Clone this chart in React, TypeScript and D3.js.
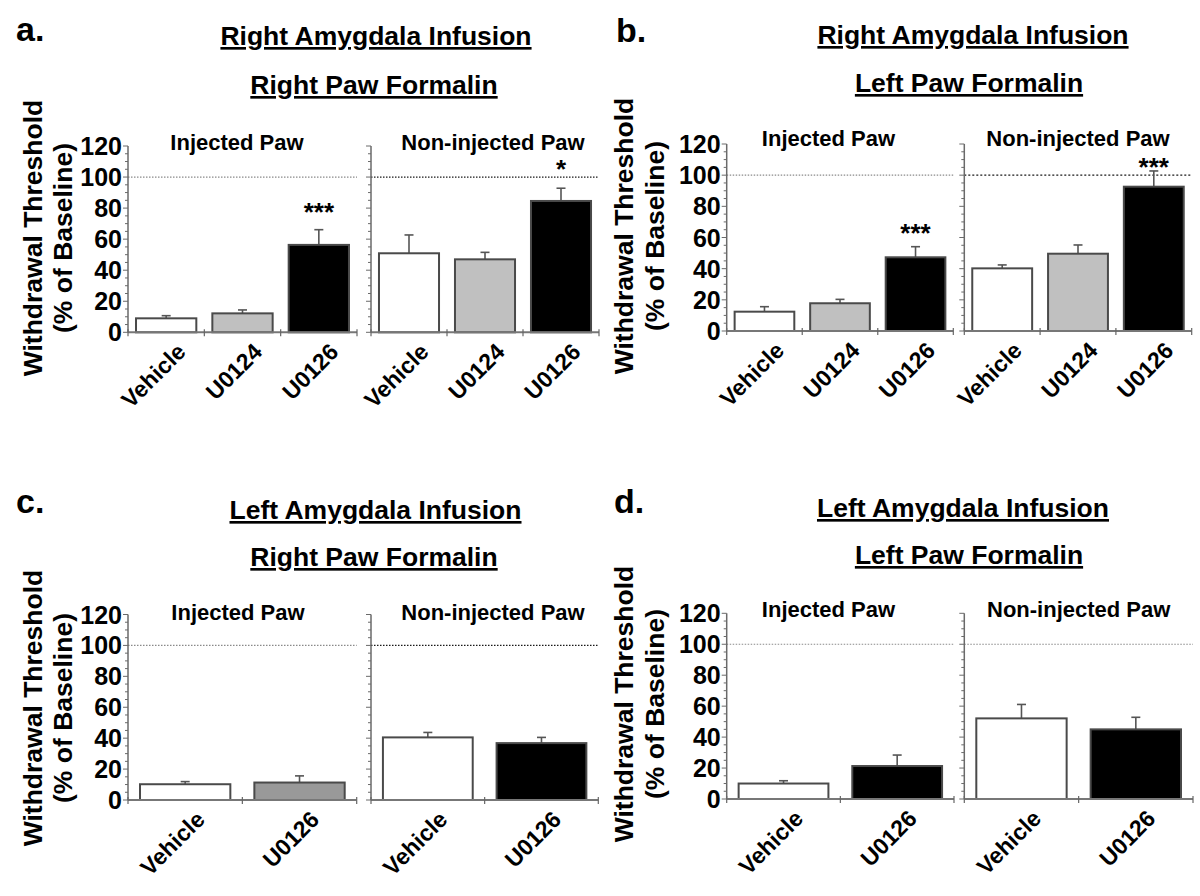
import React from "react";
import * as d3 from "d3";

// ---------- data ----------
const treatments3 = ["Vehicle", "U0124", "U0126"];
const treatments2 = ["Vehicle", "U0126"];
const yTickValues = [0, 20, 40, 60, 80, 100, 120];
const baselineLevel = 100;

// panel a: right amygdala infusion, right paw formalin
const aInjMean = [9.0, 12.2, 56.3];
const aInjSem = [1.7, 2.2, 9.8];
const aNonMean = [50.9, 47.0, 84.6];
const aNonSem = [11.8, 4.5, 8.2];
const aInjStars = ["", "", "***"];
const aNonStars = ["", "", "*"];
const aInjStarLevel = 80;
const aNonStarLevel = 107.5;

// panel b: right amygdala infusion, left paw formalin
const bInjMean = [12.4, 17.8, 47.3];
const bInjSem = [3.2, 2.5, 6.8];
const bNonMean = [40.2, 49.6, 92.6];
const bNonSem = [2.2, 5.6, 10.1];
const bInjStars = ["", "", "***"];
const bNonStars = ["", "", "***"];
const bInjStarLevel = 65;
const bNonStarLevel = 107.5;

// panel c: left amygdala infusion, right paw formalin
const cInjMean = [10.2, 11.3];
const cInjSem = [1.7, 4.3];
const cNonMean = [40.5, 36.8];
const cNonSem = [3.2, 3.7];

// panel d: left amygdala infusion, left paw formalin
const dInjMean = [10.0, 21.3];
const dInjSem = [1.8, 7.1];
const dNonMean = [52.1, 45.0];
const dNonSem = [9.0, 7.8];

const fills3 = ["#ffffff", "#c0c0c0", "#000000"];
const fillsCInj = ["#ffffff", "#999999"];
const fills2 = ["#ffffff", "#000000"];

const FONT = "'Liberation Sans', Arial, Helvetica, sans-serif";

// ---------- layout ----------
type Sub = {
  x0: number; x1: number; yBottom: number; yTop: number;
  cats: string[]; means: number[]; sems: number[]; fills: string[];
  subtitle: string; subX: number; subY: number;
  showTickLabels: boolean; refColor: string; refDash: string;
  stars?: string[]; starLevel?: number;
};

function Subplot(p: Sub) {
  const y = d3.scaleLinear().domain([0, 120]).range([p.yBottom, p.yTop]);
  const x = d3.scaleBand<string>().domain(p.cats).range([p.x0, p.x1])
    .paddingInner(0.21).paddingOuter(0.105);
  const step = x.step();
  const minor = d3.range(0, 121, 5);
  const y0 = y(0);
  return (
    <g>
      {/* reference line at 100% */}
      <line x1={p.x0} x2={p.x1} y1={y(baselineLevel)} y2={y(baselineLevel)}
        stroke={p.refColor} strokeWidth={1.2} strokeDasharray={p.refDash} />
      {/* bars */}
      {p.cats.map((c, i) => {
        const bx = x(c)!;
        const cx = bx + x.bandwidth() / 2;
        const top = y(p.means[i]);
        const et = y(p.means[i] + p.sems[i]);
        return (
          <g key={c}>
            <line x1={cx} x2={cx} y1={top} y2={et} stroke="#555" strokeWidth={1.6} />
            <line x1={cx - 4.5} x2={cx + 4.5} y1={et} y2={et} stroke="#555" strokeWidth={1.6} />
            <rect x={bx} y={top} width={x.bandwidth()} height={y0 - top}
              fill={p.fills[i]} stroke="#4a4a4a" strokeWidth={2} />
          </g>
        );
      })}
      {/* y axis */}
      <line x1={p.x0} x2={p.x0} y1={y(120)} y2={y0} stroke="#6a6a6a" strokeWidth={1.5} />
      {minor.map((v) => (
        <line key={v} x1={p.x0 - (v % 20 === 0 ? 5 : 3)} x2={p.x0} y1={y(v)} y2={y(v)}
          stroke="#6a6a6a" strokeWidth={1} />
      ))}
      {p.showTickLabels && yTickValues.map((v) => (
        <text key={v} x={p.x0 - 6} y={y(v)} dy="0.36em" textAnchor="end"
          fontFamily={FONT} fontWeight="bold" fontSize={25} fill="#000">{v}</text>
      ))}
      {/* x axis */}
      <line x1={p.x0} x2={p.x1} y1={y0} y2={y0} stroke="#777" strokeWidth={2} />
      {d3.range(p.cats.length + 1).map((i) => (
        <line key={i} x1={p.x0 + i * step} x2={p.x0 + i * step} y1={y0 - 3} y2={y0 + 4}
          stroke="#666" strokeWidth={1.2} />
      ))}
      {/* x labels */}
      {p.cats.map((c) => {
        const cx = x(c)! + x.bandwidth() / 2;
        return (
          <text key={c} transform={`translate(${cx + 21},${y0 + 21}) rotate(-45)`}
            textAnchor="end" fontFamily={FONT} fontWeight="bold" fontSize={23} fill="#000">{c}</text>
        );
      })}
      {/* significance */}
      {p.stars && p.starLevel !== undefined && p.cats.map((c, i) => p.stars![i] ? (
        <text key={"s" + c} x={x(c)! + x.bandwidth() / 2} y={y(p.starLevel!) + 12.5}
          textAnchor="middle" fontFamily={FONT} fontWeight="bold" fontSize={26} fill="#000">{p.stars![i]}</text>
      ) : null)}
      {/* subtitle */}
      <text x={p.subX} y={p.subY} textAnchor="middle" fontFamily={FONT} fontWeight="bold"
        fontSize={22} fill="#000">{p.subtitle}</text>
    </g>
  );
}

type PanelProps = {
  letter: string; letterX: number; letterY: number;
  title1: string; title1X: number; title1Y: number;
  title2: string; title2X: number; title2Y: number;
  yTitleX: number; yTitleY: number;
  left: Sub; right: Sub;
};

function Panel(p: PanelProps) {
  return (
    <g>
      <text x={p.letterX} y={p.letterY} fontFamily={FONT} fontWeight="bold" fontSize={34} fill="#000">{p.letter}</text>
      <text x={p.title1X} y={p.title1Y} textAnchor="middle" fontFamily={FONT} fontWeight="bold"
        fontSize={26.5} fill="#000" style={{ textDecoration: "underline" }}>{p.title1}</text>
      <text x={p.title2X} y={p.title2Y} textAnchor="middle" fontFamily={FONT} fontWeight="bold"
        fontSize={26.5} fill="#000" style={{ textDecoration: "underline" }}>{p.title2}</text>
      <text transform={`translate(${p.yTitleX},${p.yTitleY}) rotate(-90)`} textAnchor="middle"
        fontFamily={FONT} fontWeight="bold" fontSize={26.5} fill="#000">Withdrawal Threshold</text>
      <text transform={`translate(${p.yTitleX + 30.5},${p.yTitleY}) rotate(-90)`} textAnchor="middle"
        fontFamily={FONT} fontWeight="bold" fontSize={26.5} fill="#000">(% of Baseline)</text>
      <Subplot {...p.left} />
      <Subplot {...p.right} />
    </g>
  );
}

const LIGHT = "#8a8a8a";
const DARK = "#1a1a1a";

export default function App() {
  const panelA: PanelProps = {
    letter: "a.", letterX: 16, letterY: 41,
    title1: "Right Amygdala Infusion", title1X: 376, title1Y: 45,
    title2: "Right Paw Formalin", title2X: 374, title2Y: 94,
    yTitleX: 41.5, yTitleY: 238,
    left: { x0: 128, x1: 357, yBottom: 332.3, yTop: 146, cats: treatments3, means: aInjMean, sems: aInjSem,
      fills: fills3, subtitle: "Injected Paw", subX: 237, subY: 150, showTickLabels: true,
      refColor: LIGHT, refDash: "1.5,1.5", stars: aInjStars, starLevel: aInjStarLevel },
    right: { x0: 371, x1: 599, yBottom: 332.3, yTop: 146, cats: treatments3, means: aNonMean, sems: aNonSem,
      fills: fills3, subtitle: "Non-injected Paw", subX: 493, subY: 150, showTickLabels: false,
      refColor: DARK, refDash: "1.5,1.5", stars: aNonStars, starLevel: aNonStarLevel },
  };
  const panelB: PanelProps = {
    letter: "b.", letterX: 616, letterY: 42,
    title1: "Right Amygdala Infusion", title1X: 973, title1Y: 44,
    title2: "Left Paw Formalin", title2X: 969, title2Y: 92,
    yTitleX: 633, yTitleY: 236,
    left: { x0: 726.7, x1: 953.3, yBottom: 331, yTop: 144, cats: treatments3, means: bInjMean, sems: bInjSem,
      fills: fills3, subtitle: "Injected Paw", subX: 828.5, subY: 146, showTickLabels: true,
      refColor: LIGHT, refDash: "1.5,1.5", stars: bInjStars, starLevel: bInjStarLevel },
    right: { x0: 964.3, x1: 1191.7, yBottom: 331, yTop: 144, cats: treatments3, means: bNonMean, sems: bNonSem,
      fills: fills3, subtitle: "Non-injected Paw", subX: 1078, subY: 146, showTickLabels: false,
      refColor: DARK, refDash: "2,2", stars: bNonStars, starLevel: bNonStarLevel },
  };
  const panelC: PanelProps = {
    letter: "c.", letterX: 16, letterY: 513,
    title1: "Left Amygdala Infusion", title1X: 375.5, title1Y: 519,
    title2: "Right Paw Formalin", title2X: 374, title2Y: 566,
    yTitleX: 41.5, yTitleY: 708,
    left: { x0: 128, x1: 356.7, yBottom: 800, yTop: 614.5, cats: treatments2, means: cInjMean, sems: cInjSem,
      fills: fillsCInj, subtitle: "Injected Paw", subX: 238, subY: 620, showTickLabels: true,
      refColor: LIGHT, refDash: "1.5,1.5" },
    right: { x0: 371, x1: 598.3, yBottom: 800, yTop: 614.5, cats: treatments2, means: cNonMean, sems: cNonSem,
      fills: fills2, subtitle: "Non-injected Paw", subX: 493, subY: 620, showTickLabels: false,
      refColor: DARK, refDash: "1.5,1.5" },
  };
  const panelD: PanelProps = {
    letter: "d.", letterX: 614, letterY: 513,
    title1: "Left Amygdala Infusion", title1X: 963, title1Y: 517,
    title2: "Left Paw Formalin", title2X: 969, title2Y: 564,
    yTitleX: 633, yTitleY: 704,
    left: { x0: 726.7, x1: 954, yBottom: 799, yTop: 613.3, cats: treatments2, means: dInjMean, sems: dInjSem,
      fills: fills2, subtitle: "Injected Paw", subX: 828.5, subY: 617, showTickLabels: true,
      refColor: LIGHT, refDash: "1.5,1.5" },
    right: { x0: 964.3, x1: 1193, yBottom: 799, yTop: 613.3, cats: treatments2, means: dNonMean, sems: dNonSem,
      fills: fills2, subtitle: "Non-injected Paw", subX: 1078.7, subY: 617, showTickLabels: false,
      refColor: LIGHT, refDash: "1.5,1.5" },
  };
  return (
    <svg width={1200} height={896} viewBox="0 0 1200 896"
      style={{ position: "absolute", left: 0, top: 0, background: "#fff" }}>
      <rect x={0} y={0} width={1200} height={896} fill="#fff" />
      <Panel {...panelA} />
      <Panel {...panelB} />
      <Panel {...panelC} />
      <Panel {...panelD} />
    </svg>
  );
}
